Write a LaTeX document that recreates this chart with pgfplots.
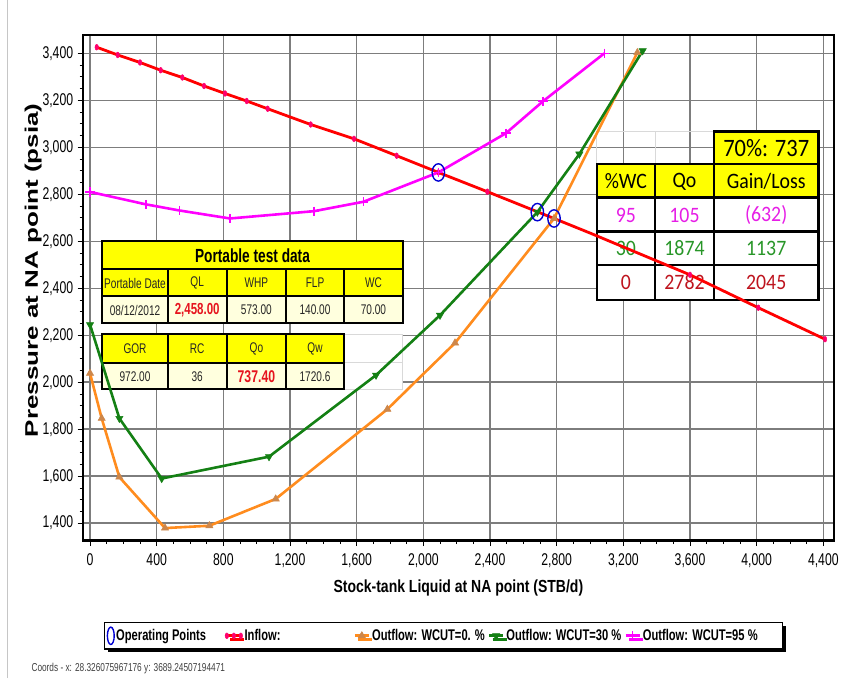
\documentclass[border=0pt]{standalone}
\usepackage{pgfplots}
\pgfplotsset{compat=1.18}
\usepackage{fontspec}
\setmainfont{Liberation Sans}
\newfontfamily\narrow[FakeStretch=0.72]{Liberation Sans}
\newfontfamily\xlabfont[FakeStretch=0.8]{Liberation Sans}
\newfontfamily\calfont[FakeStretch=0.9]{Carlito}
\usetikzlibrary{shadows}
\definecolor{inflowred}{RGB}{255,0,0}
\definecolor{inflowmk}{RGB}{255,0,110}
\definecolor{wpink}{RGB}{255,0,255}
\definecolor{wgreen}{RGB}{20,128,20}
\definecolor{worange}{RGB}{255,140,30}
\definecolor{wtan}{RGB}{205,135,75}
\definecolor{opblue}{RGB}{0,0,210}
\definecolor{gridgray}{RGB}{125,125,125}
\definecolor{tyellow}{RGB}{255,255,0}
\definecolor{tcream}{RGB}{255,255,222}
\definecolor{tred}{RGB}{230,20,30}
\definecolor{tmag}{RGB}{230,30,230}
\definecolor{tgreen}{RGB}{40,150,40}
\definecolor{tdred}{RGB}{190,20,30}
\pgfplotsset{
  geom/.style={
    at={(82.7pt,137pt)}, anchor=south west, scale only axis,
    width=751.3pt, height=506pt,
    xmin=-44, xmax=4464, ymin=1324, ymax=3478,
    xtick={0,400,...,4400}, ytick={1400,1600,...,3400},
  }
}
\begin{document}
\begin{tikzpicture}
\useasboundingbox (0,0) rectangle (846pt,678pt);
\draw[gray!45, line width=1pt] (7pt,0pt) -- (7pt,678pt);
% grid layer
\begin{axis}[geom, axis line style={draw=none}, tick style={draw=none},
  xticklabels={}, yticklabels={}, grid=major,
  major grid style={gridgray, line width=1.4pt}]
\end{axis}
% tables
\begin{scope}[yshift=678pt, x=1pt, y=-1pt]
  % portable test data
  \fill[tyellow] (102.3,241) rectangle (402.7,296);
  \fill[tcream] (102.3,296) rectangle (402.7,323.3);
  \fill[white] (344,323.3) rectangle (402.7,389.3);
  \draw[gray!30, line width=0.8pt] (344,334.3) rectangle (402.7,389.3) (344,362.7) -- (402.7,362.7);
  \fill[tyellow] (102.3,334.3) rectangle (344,362.7);
  \fill[tcream] (102.3,362.7) rectangle (344,389.3);
  \draw[line width=1.8pt] (102.3,241) rectangle (402.7,323.3);
  \draw[line width=1.8pt] (102.3,269.3) -- (402.7,269.3) (102.3,296) -- (402.7,296);
  \foreach \x in {167.7,226.7,286,344} \draw[line width=1.8pt] (\x,269.3) -- (\x,323.3);
  \draw[line width=1.8pt] (102.3,334.3) rectangle (344,389.3);
  \draw[line width=1.8pt] (102.3,362.7) -- (344,362.7);
  \foreach \x in {167.7,226.7,286} \draw[line width=1.8pt] (\x,334.3) -- (\x,389.3);
  \node[font=\narrow\bfseries\fontsize{19}{19}\selectfont] at (252.5,255.5) {Portable test data};
  \begin{scope}[every node/.style={font=\narrow\fontsize{14}{14}\selectfont, text=black!85}]
    \node at (135,283) {Portable Date};
    \node at (197.2,283) {QL};
    \node at (256.4,283) {WHP};
    \node at (315,283) {FLP};
    \node at (373.4,283) {WC};
    \node at (135,310) {08/12/2012};
    \node at (256.4,310) {573.00};
    \node at (315,310) {140.00};
    \node at (373.4,310) {70.00};
    \node at (135,348.5) {GOR};
    \node at (197.2,348.5) {RC};
    \node at (256.4,348.5) {Qo};
    \node at (315,348.5) {Qw};
    \node at (135,376.5) {972.00};
    \node at (197.2,376.5) {36};
    \node at (315,376.5) {1720.6};
  \end{scope}
  \node[font=\narrow\bfseries\fontsize{16}{16}\selectfont, text=tred] at (197.2,310) {2,458.00};
  \node[font=\narrow\bfseries\fontsize{17}{17}\selectfont, text=tred] at (256.4,376.5) {737.40};
  % WC table
  \draw[gray!30, line width=0.8pt] (596.7,131.7) rectangle (714,164.3) (655,131.7) -- (655,164.3);
  \fill[tyellow] (714,131.7) rectangle (818.3,164.3);
  \fill[tyellow] (596.7,164.3) rectangle (818.3,197.7);
  \fill[white] (596.7,197.7) rectangle (818.3,300);
  \draw[line width=2.4pt] (714,131.7) rectangle (818.3,164.3);
  \draw[line width=2.4pt] (596.7,164.3) rectangle (818.3,300);
  \draw[line width=2.4pt] (596.7,197.7) -- (818.3,197.7) (596.7,231.7) -- (818.3,231.7) (596.7,265) -- (818.3,265);
  \draw[line width=2.4pt] (655,164.3) -- (655,300) (714,164.3) -- (714,300);
  \node[font=\calfont\fontsize{25}{25}\selectfont] at (766.2,148.5) {70\%: 737};
  \begin{scope}[every node/.style={font=\calfont\fontsize{22}{22}\selectfont}]
    \node at (625.8,181.5) {\%WC};
    \node at (684.5,181.5) {Qo};
    \node at (766.2,181.5) {Gain/Loss};
    \node[text=tmag] at (625.8,215) {95};
    \node[text=tmag] at (684.5,215) {105};
    \node[text=tmag] at (766.2,215) {(632)};
    \node[text=tgreen] at (625.8,248.5) {30};
    \node[text=tgreen] at (684.5,248.5) {1874};
    \node[text=tgreen] at (766.2,248.5) {1137};
    \node[text=tdred] at (625.8,282.5) {0};
    \node[text=tdred] at (684.5,282.5) {2782};
    \node[text=tdred] at (766.2,282.5) {2045};
  \end{scope}
  \node[anchor=west, font=\narrow\fontsize{11.5}{11.5}\selectfont, text=black!75] at (28,669) {Coords - x: 28.326075967176 y: 3689.24507194471};
\end{scope}
% main axis
\begin{axis}[geom,
  axis line style={line width=1.5pt, black},
  tick pos=left, tick align=outside,
  major tick length=5pt, minor tick length=3pt,
  tick style={black, line width=0.8pt},
  minor x tick num=3, minor y tick num=3,
  /pgf/number format/1000 sep={,},
  /pgf/number format/assume math mode=true,
  tick label style={font=\narrow\fontsize{17}{18}\selectfont, text=black},
  xticklabel style={yshift=-4pt},
  yticklabel style={xshift=-1pt},
  xlabel={Stock-tank Liquid at NA point (STB/d)},
  xlabel style={font=\xlabfont\bfseries\fontsize{17.5}{19}\selectfont, at={(axis description cs:0.5,-0.093)}, anchor=center},
  ylabel={\scalebox{1}[0.7]{\bfseries\fontsize{26}{26}\selectfont Pressure at NA point (psia)}},
  ylabel style={at={(axis description cs:-0.066,0.535)}, anchor=center},
  legend columns=-1,
  legend cell align=left,
  legend image code/.code={\draw[mark repeat=2,mark phase=2,#1] plot coordinates {(0pt,0pt) (7pt,0pt) (14pt,0pt)};},
  legend style={at={(axis description cs:0.028,-0.160)}, anchor=north west,
    draw=black, line width=1.3pt, fill=white,
    drop shadow={shadow xshift=3.5pt, shadow yshift=-3.5pt, fill=black, opacity=1},
    font=\narrow\bfseries\fontsize{15.5}{17}\selectfont, inner xsep=3pt, inner ysep=4.5pt,
    /tikz/every even column/.append style={column sep=1pt}},
]
\addplot[only marks, mark=o, mark size=6.2pt,
  mark options={yscale=1.4, draw=opblue, line width=1.4pt},
  legend image post style={every mark/.append style={xscale=0.55}}]
  coordinates {(2090,2893) (2684,2724) (2784,2697)};
\addlegendentry{Operating Points\hspace{16pt}\mbox{}}
\addplot[color=inflowred, line width=2.8pt, mark=*, mark size=2.9pt,
  mark options={xscale=0.6, fill=inflowmk, draw=inflowmk, line width=0.5pt},
  mark indices={1,2,3,4,5,6,7,8,9,10,11,12,13,14,17,18,19}]
  coordinates {
  (40,3426) (166,3393) (300,3361) (424,3328) (554,3297) (684,3261)
  (810,3229) (940,3197) (1066,3164) (1324,3097) (1584,3036) (1840,2964)
  (2090,2893) (2384,2811) (2784,2697) (3000,2635) (3600,2457) (4010,2317)
  (4410,2183)};
\addlegendentry{Inflow:\hspace{70pt}\mbox{}}
\addplot[color=worange, line width=2.6pt, mark=triangle*, mark size=4.2pt,
  mark options={fill=wtan, draw=wtan, line width=0.5pt}]
  coordinates {
  (0,2038) (70,1846) (176,1596) (450,1379) (716,1389) (1114,1503)
  (1784,1885) (2190,2167) (2784,2697) (3284,3403)};
\addlegendentry{Outflow: WCUT=0. \%}
\addplot[color=wgreen, line width=2.6pt, mark=triangle*, mark size=4.2pt,
  mark options={rotate=180, fill=wgreen, draw=wgreen, line width=0.5pt}]
  coordinates {
  (0,2245) (176,1846) (430,1590) (1074,1683) (1716,2030) (2100,2285)
  (2684,2724) (2936,2971) (3316,3411)};
\addlegendentry{Outflow: WCUT=30 \%}
\addplot[color=wpink, line width=2.6pt, mark=+, mark size=4.6pt,
  mark options={line width=1.6pt}]
  coordinates {
  (0,2810) (336,2757) (536,2731) (840,2697) (1344,2728) (1640,2768)
  (2090,2893) (2496,3060) (2718,3196) (3086,3400)};
\addlegendentry{Outflow: WCUT=95 \%\hspace{20pt}\mbox{}}
\draw[line width=3.5pt, black] (rel axis cs:0,1) -- (rel axis cs:0,0) -- (rel axis cs:1,0);
\end{axis}
\end{tikzpicture}
\end{document}
